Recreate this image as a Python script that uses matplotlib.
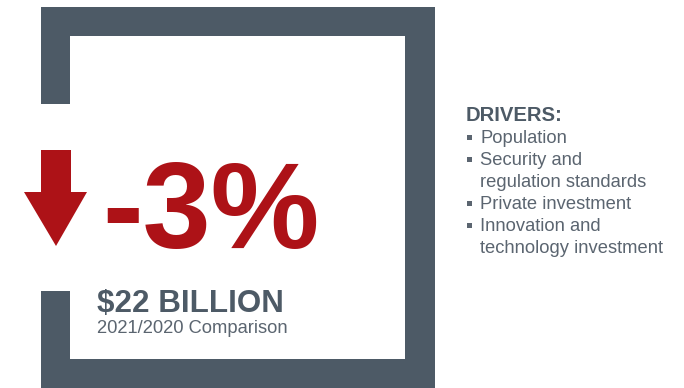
import matplotlib.pyplot as plt
from matplotlib.patches import Rectangle, Polygon

# values shown on the card
change_pct = -3
total_billion = 22
years = ["2021", "2020"]
drivers_title = "DRIVERS:"
drivers = [
    ["Population"],
    ["Security and", "regulation standards"],
    ["Private investment"],
    ["Innovation and", "technology investment"],
]

slate = "#4d5a66"
red = "#ad1217"
grey = "#5b6570"

plt.rcParams["font.family"] = ["Liberation Sans", "DejaVu Sans"]

fig = plt.figure(figsize=(6.84, 3.88), dpi=100)
ax = fig.add_axes([0, 0, 1, 1])
ax.set_xlim(0, 684)
ax.set_ylim(388, 0)
ax.axis("off")

# frame, left side has a gap for the arrow
ax.add_patch(Rectangle((41, 7), 394, 29, color=slate, lw=0))     # top
ax.add_patch(Rectangle((41, 359), 394, 29, color=slate, lw=0))   # bottom
ax.add_patch(Rectangle((405, 7), 30, 381, color=slate, lw=0))    # right
ax.add_patch(Rectangle((41, 7), 29, 97, color=slate, lw=0))      # left upper
ax.add_patch(Rectangle((41, 291), 29, 97, color=slate, lw=0))    # left lower

# down arrow
ax.add_patch(Polygon([(41, 150), (71, 150), (71, 192), (87, 192),
                      (56, 246), (24, 192), (41, 192)],
                     closed=True, color=red, lw=0))

ax.text(102, 248, f"{change_pct}%", color=red, fontsize=88,
        fontweight="bold", ha="left", va="baseline")
ax.text(97, 312, f"${total_billion} BILLION", color=slate, fontsize=22.6,
        fontweight="bold", ha="left", va="baseline")
ax.text(97, 333, f"{years[0]}/{years[1]} Comparison", color=grey,
        fontsize=13.2, ha="left", va="baseline")

# drivers list
ax.text(466, 121, drivers_title, color=slate, fontsize=14.6,
        fontweight="heavy", ha="left", va="baseline")
y = 143
for item in drivers:
    ax.add_patch(Rectangle((467, y - 8), 4.5, 4.5, color=grey, lw=0))
    for line in item:
        ax.text(480, y, line, color=grey, fontsize=13.2,
                ha="left", va="baseline")
        y += 22

fig.savefig("out.png", dpi=100)
